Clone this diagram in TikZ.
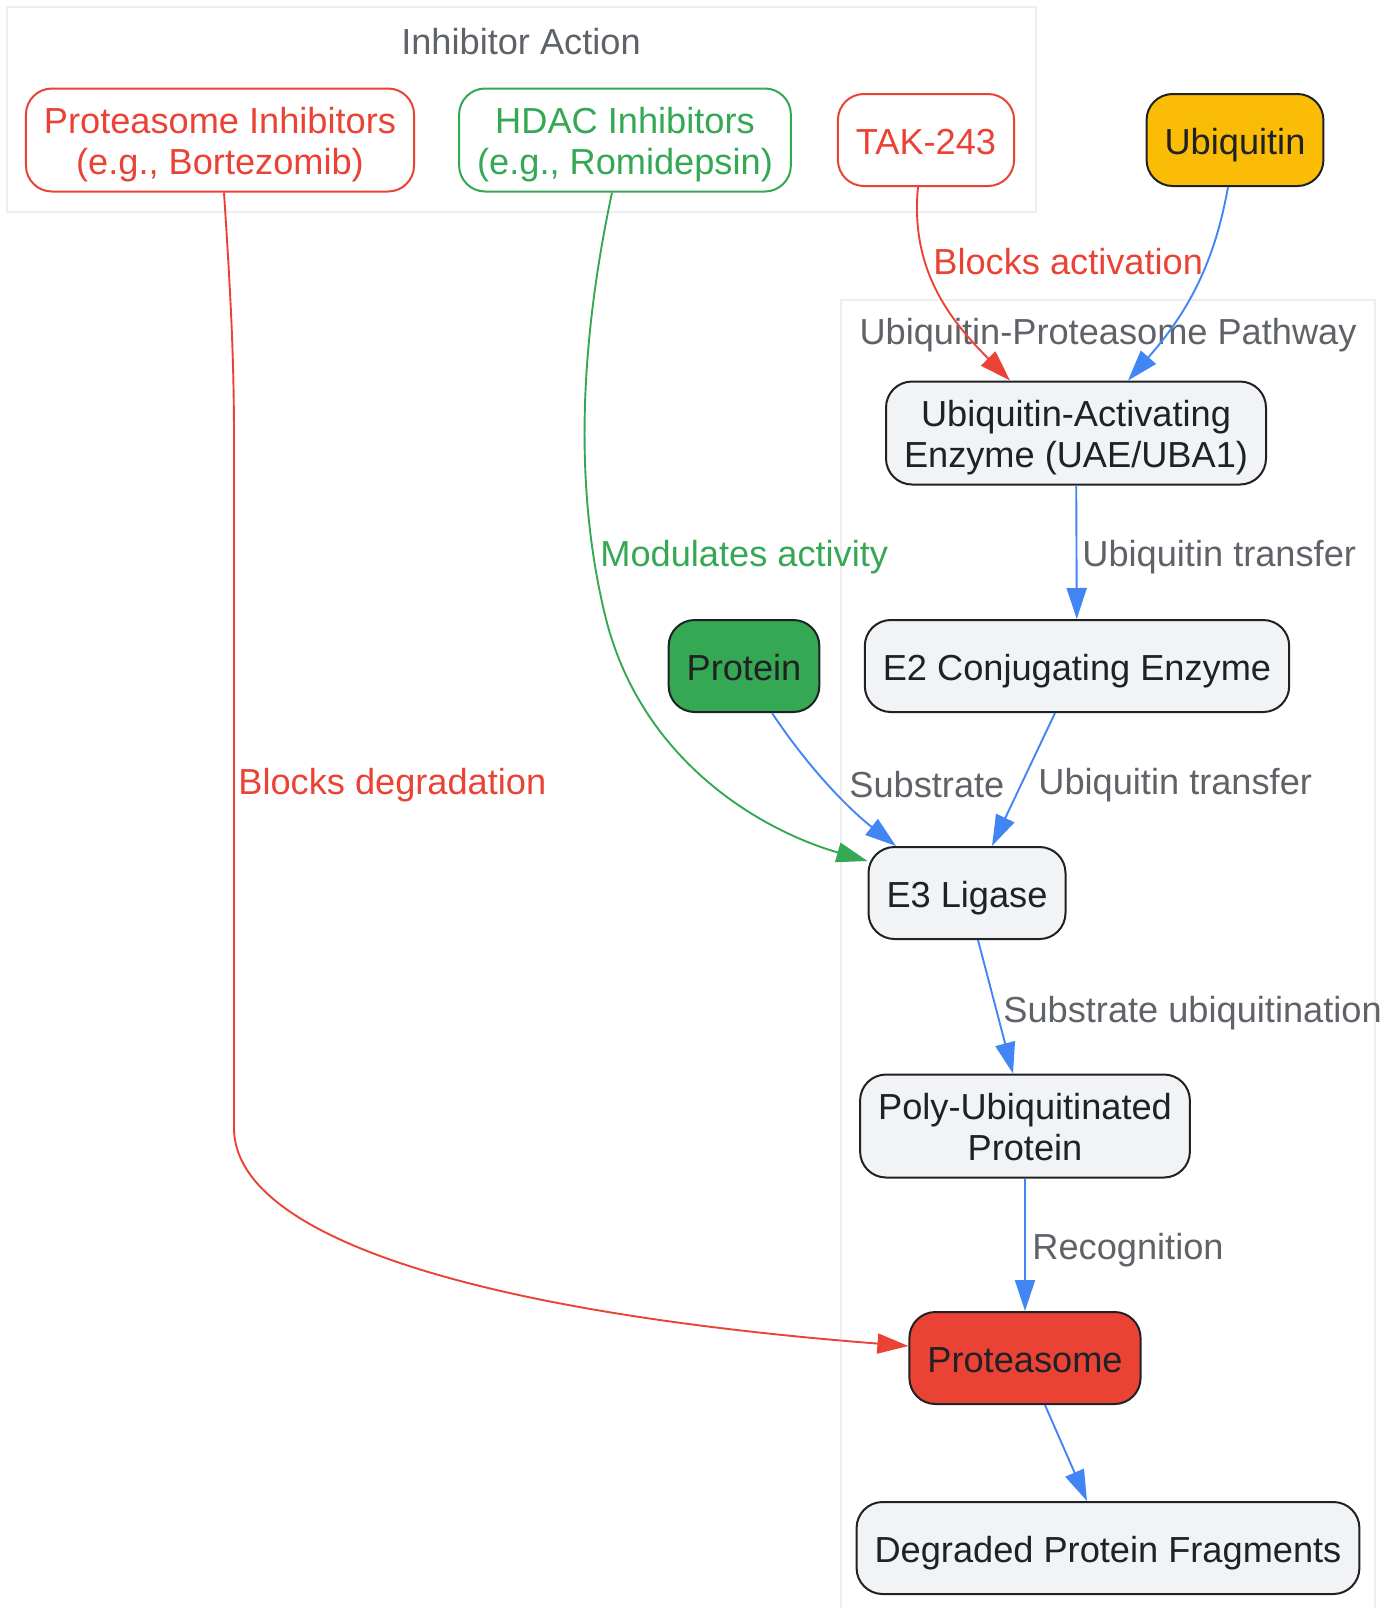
\documentclass[tikz,border=0pt]{standalone}
\usepackage{fontspec}
\setmainfont{Liberation Sans}
\usetikzlibrary{arrows.meta}

\definecolor{ink}{HTML}{202124}
\definecolor{gred}{HTML}{EA4335}
\definecolor{ggreen}{HTML}{34A853}
\definecolor{gblue}{HTML}{4285F4}
\definecolor{gyellow}{HTML}{FBBC05}
\definecolor{ggray}{HTML}{5F6368}
\definecolor{pale}{HTML}{F1F3F4}
\definecolor{frame}{HTML}{EEEEEE}

\tikzset{
  every node/.style={font=\fontsize{18.1pt}{20.5pt}\selectfont},
  box/.style={draw=ink, line width=1pt, rounded corners=13pt, inner xsep=9pt, inner ysep=7pt, minimum height=46pt, align=center, text=ink, text height=15.5pt, text depth=1.5pt},
  twoline/.style={text height=36.2pt, text depth=1.3pt},
  stepbox/.style={box, fill=pale},
  drugbox/.style={box, fill=white, draw=#1, text=#1},
  cluster/.style={draw=frame, line width=1pt, fill=white},
  title/.style={text=ggray},
  lbl/.style={anchor=west, inner sep=0pt, text=#1},
  link/.style={draw=#1, line width=0.95pt, -{Triangle[length=15.5pt,width=10pt]}},
}

\begin{document}
\begin{tikzpicture}[x=0.5pt,y=-0.5pt]
\useasboundingbox (0,0) rectangle (1397,1608);
\draw[cluster] (7,7) rectangle (1036,212);
\draw[cluster] (841,300) rectangle (1375,1620);
\node[title](inhT) at (521,42){Inhibitor Action};
\node[title](pathT) at (1108,335){Ubiquitin-Proteasome Pathway};

\node[drugbox=gred,twoline](PI) at (220,140){Proteasome Inhibitors\\(e.g., Bortezomib)};
\node[drugbox=ggreen,twoline](HDAC) at (625,140){HDAC Inhibitors\\(e.g., Romidepsin)};
\node[drugbox=gred](TAK) at (926,140){TAK-243};
\node[box,fill=gyellow](Ub) at (1235,140){Ubiquitin};
\node[stepbox,twoline](UAE) at (1076,433){Ubiquitin-Activating\\Enzyme (UAE/UBA1)};
\node[stepbox](E2) at (1077,666){E2 Conjugating Enzyme};
\node[box,fill=ggreen](Prot) at (744,666){Protein};
\node[stepbox](E3) at (967,893){E3 Ligase};
\node[stepbox,twoline](PolyUb) at (1025,1126){Poly-Ubiquitinated\\Protein};
\node[box,fill=gred](Psome) at (1025,1358){Proteasome};
\node[stepbox](Frag) at (1108,1548){Degraded Protein Fragments};

\node[lbl=gred](lbBA) at (933,262){Blocks activation};
\node[lbl=ggreen](lbMA) at (600,557){Modulates activity};
\node[lbl=ggray](lbUT) at (1082,557){Ubiquitin transfer};
\node[lbl=gred](lbBD) at (238,785){Blocks degradation};
\node[lbl=ggray](lbS) at (849,785){Substrate};
\node[lbl=ggray](lbUT2) at (1038,785){Ubiquitin transfer};
\node[lbl=ggray](lbSU) at (1003,1013){Substrate ubiquitination};
\node[lbl=ggray](lbR) at (1032,1250){Recognition};

\draw[link=gred] ([xshift=2pt]PI.south) .. controls (231,300) and (234,360) .. (234,440)
  -- (234,1128) .. controls (234,1230) and (450,1310) .. ([yshift=6pt]Psome.west);
\draw[link=ggreen] ([xshift=-6.5pt]HDAC.south) .. controls (585,320) and (570,470) .. (605,615)
  .. controls (640,760) and (760,830) .. ([yshift=16pt]E3.west);
\draw[link=gred] ([xshift=-4pt]TAK.south) .. controls (910,270) and (950,320) .. ([xshift=-33pt]UAE.north);
\draw[link=gblue] ([xshift=-3.5pt]Ub.south) .. controls (1215,260) and (1190,310) .. ([xshift=26pt]UAE.north);
\draw[link=gblue] ([xshift=14pt]Prot.south) .. controls (810,770) and (850,810) .. ([xshift=-35.5pt]E3.north);

\path
(UAE) edge[link=gblue] (E2)
([xshift=-11pt]E2.south) edge[link=gblue] ([xshift=12.5pt]E3.north)
([xshift=5.5pt]E3.south) edge[link=gblue] ([xshift=-6pt]PolyUb.north)
(PolyUb) edge[link=gblue] (Psome)
([xshift=10pt]Psome.south) edge[link=gblue] ([xshift=-10.5pt]Frag.north);
\end{tikzpicture}
\end{document}
